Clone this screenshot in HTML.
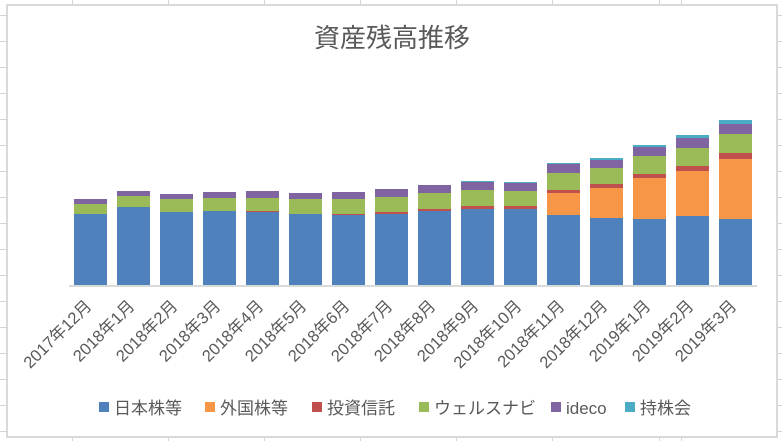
<!DOCTYPE html>
<html><head><meta charset="utf-8"><style>
body{margin:0;width:782px;height:441px;overflow:hidden;background:#fff;font-family:"Liberation Sans","Noto Sans CJK JP",sans-serif;}
</style></head><body>
<svg id="svg" width="782" height="441" xmlns="http://www.w3.org/2000/svg">
<g id="grid" stroke="#d4d4d4" stroke-width="1"></g>
<rect x="7" y="5" width="770" height="432" fill="#fff" stroke="#d9d9d9" stroke-width="2"/>
<text x="392" y="47" text-anchor="middle" font-size="26" fill="#595959">資産残高推移</text>
<g id="bars"></g>
<line x1="69" y1="286" x2="757" y2="286" stroke="#d9d9d9" stroke-width="2"/>
<g id="labels"></g>
<g id="legend"></g>
</svg>
<script>
const categories=["2017年12月","2018年1月","2018年2月","2018年3月","2018年4月","2018年5月","2018年6月","2018年7月","2018年8月","2018年9月","2018年10月","2018年11月","2018年12月","2019年1月","2019年2月","2019年3月"];
const seriesNames=["日本株等","外国株等","投資信託","ウェルスナビ","ideco","持株会"];
const japan=[71,78,73,74,73,71,70,71,74,76,76,70,67,66,69,66];
const foreign=[0,0,0,0,0,0,0,0,0,0,0,22,30,41,45,60];
const trust=[0,0,0,0,1,0,1,2,2,3,3,3,4,4,5,6];
const wealth=[10,11,13,13,13,15,15,15,16,16,15,17,16,18,18,19];
const ideco=[5,5,5,6,7,6,7,8,8,8,8,9,8,9,10,10];
const mochikabu=[0,0,0,0,0,0,0,0,0,1,1,1,2,2,3,4];
const series=[japan,foreign,trust,wealth,ideco,mochikabu];
const colors=["#4f81bd","#f79646","#c0504d","#9bbb59","#8064a2","#4bacc6"];
const NS="http://www.w3.org/2000/svg";
const base=285, x0=69, step=43, bw=33, scale=1;
const xc=i=>x0+step*i+step/2;
const yv=v=>base-v*scale;
const bars=document.getElementById('bars');
categories.forEach((c,i)=>{
  let acc=0;
  series.forEach((s,k)=>{
    const v=s[i]; if(v<=0){return;}
    const r=document.createElementNS(NS,'rect');
    r.setAttribute('x',xc(i)-bw/2);r.setAttribute('width',bw);
    r.setAttribute('y',yv(acc+v));r.setAttribute('height',yv(acc)-yv(acc+v));
    r.setAttribute('fill',colors[k]);
    
    
    bars.appendChild(r);acc+=v;
  });
  const t=document.createElementNS(NS,'text');
  const lx=xc(i)+2, ly=307;
  t.setAttribute('x',lx);t.setAttribute('y',ly);
  t.setAttribute('text-anchor','end');t.setAttribute('font-size','16.5');t.setAttribute('fill','#595959');
  t.setAttribute('transform','rotate(-45 '+lx+' '+ly+')');
  t.textContent=c;
  
  
  document.getElementById('labels').appendChild(t);
});
const lgx=[99,205,312,419,551,625];
const lg=document.getElementById('legend');
seriesNames.forEach((n,k)=>{
  const g=document.createElementNS(NS,'g');
  
  
  const r=document.createElementNS(NS,'rect');
  r.setAttribute('x',lgx[k]);r.setAttribute('y',402);r.setAttribute('width',10);r.setAttribute('height',10);r.setAttribute('fill',colors[k]);
  const t=document.createElementNS(NS,'text');
  t.setAttribute('x',lgx[k]+15);t.setAttribute('y',414);t.setAttribute('font-size','17');t.setAttribute('fill','#595959');
  t.textContent=n;
  g.appendChild(r);g.appendChild(t);lg.appendChild(g);
});
const grid=document.getElementById('grid');
for(let y=15;y<441;y+=26){
  const l=document.createElementNS(NS,'line');
  l.setAttribute('x1',0);l.setAttribute('x2',782);l.setAttribute('y1',y+0.5);l.setAttribute('y2',y+0.5);grid.appendChild(l);
}
[72,168,264,360,456,552,659,681].forEach(x=>{
  const l=document.createElementNS(NS,'line');
  l.setAttribute('x1',x+0.5);l.setAttribute('x2',x+0.5);l.setAttribute('y1',0);l.setAttribute('y2',441);grid.appendChild(l);
});
</script>
</body></html>
